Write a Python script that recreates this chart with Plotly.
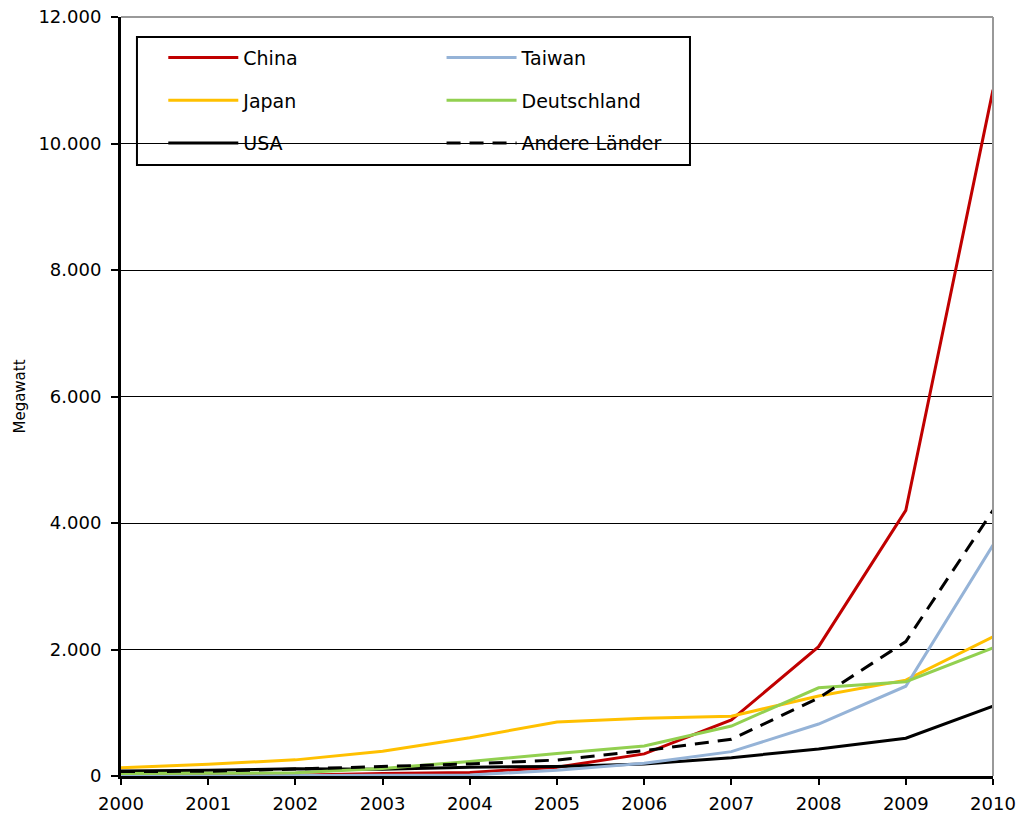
import plotly.graph_objects as go

years = [2000, 2001, 2002, 2003, 2004, 2005, 2006, 2007, 2008, 2009, 2010]
china = [3, 3, 10, 40, 55, 140, 350, 885, 2045, 4200, 10850]
taiwan = [0, 0, 5, 10, 16, 90, 200, 385, 822, 1420, 3650]
japan = [130, 185, 255, 390, 605, 855, 912, 945, 1265, 1515, 2200]
deutschland = [40, 42, 50, 120, 230, 355, 474, 790, 1395, 1490, 2025]
usa = [80, 90, 115, 105, 140, 150, 190, 290, 427, 598, 1105]
andere = [70, 75, 110, 145, 190, 253, 400, 580, 1233, 2125, 4200]

series = [
    ("China", china, "#C00000", "solid", "legend", 1),
    ("Japan", japan, "#FFC000", "solid", "legend", 2),
    ("USA", usa, "#000000", "solid", "legend", 3),
    ("Taiwan", taiwan, "#95B3D7", "solid", "legend2", 4),
    ("Deutschland", deutschland, "#92D050", "solid", "legend2", 5),
    ("Andere Länder", andere, "#000000", "14px,9px", "legend2", 6),
]

fig = go.Figure()
for name, vals, color, dash, leg, rank in series:
    fig.add_trace(go.Scatter(
        x=years, y=vals, mode="lines", name=name,
        line=dict(color=color, width=3, dash=dash),
        legend=leg, legendgroup=name, legendrank=rank,
    ))

family = "DejaVu Sans, Verdana, sans-serif"
tickfont = dict(family=family, size=18, color="#000000")
legfont = dict(family=family, size=19, color="#000000")

legend_common = dict(
    bgcolor="rgba(0,0,0,0)", borderwidth=0, font=legfont,
    xanchor="left", yanchor="top", tracegroupgap=15, itemwidth=70,
    orientation="v",
)

fig.update_layout(
    width=1020, height=819,
    margin=dict(l=121, r=27, t=17, b=43, autoexpand=False),
    paper_bgcolor="white", plot_bgcolor="white",
    font=tickfont,
    separators=",.",
    showlegend=True,
    legend=dict(x=0.0485, y=0.9714, **legend_common),
    legend2=dict(x=0.3676, y=0.9714, **legend_common),
    xaxis=dict(
        range=[2000, 2010], tickmode="array", tickvals=years,
        ticktext=[str(y) for y in years],
        showgrid=False, zeroline=False, automargin=False,
        showline=True, linecolor="#000000", linewidth=3,
        ticks="outside", ticklen=6, tickwidth=2, tickcolor="#000000",
        ticklabelstandoff=3,
        tickfont=tickfont,
    ),
    yaxis=dict(
        range=[0, 12000], tickmode="array",
        tickvals=[0, 2000, 4000, 6000, 8000, 10000, 12000],
        tickformat=",d", automargin=False,
        showgrid=True, gridcolor="#000000", gridwidth=1,
        zeroline=False,
        showline=True, linecolor="#000000", linewidth=3,
        ticks="outside", ticklen=7, tickwidth=2, tickcolor="#000000",
        ticklabelstandoff=6,
        tickfont=tickfont,
        title=dict(text="Megawatt", font=dict(family=family, size=15, color="#000000"), standoff=10),
    ),
    shapes=[
        dict(type="line", xref="paper", yref="paper", x0=0, x1=1, y0=1, y1=1,
             line=dict(color="#999999", width=2), layer="above"),
        dict(type="line", xref="paper", yref="paper", x0=1, x1=1, y0=0, y1=1,
             line=dict(color="#999999", width=2), layer="above"),
        dict(type="rect", xref="paper", yref="paper", x0=0.0183, x1=0.6525,
             y0=0.805, y1=0.9736, line=dict(color="#000000", width=2),
             fillcolor="white", layer="below"),
    ],
)

fig.write_html(
    "out.html",
    config={"displayModeBar": False},
    post_script="document.body.style.margin='0';document.body.style.padding='0';",
)
